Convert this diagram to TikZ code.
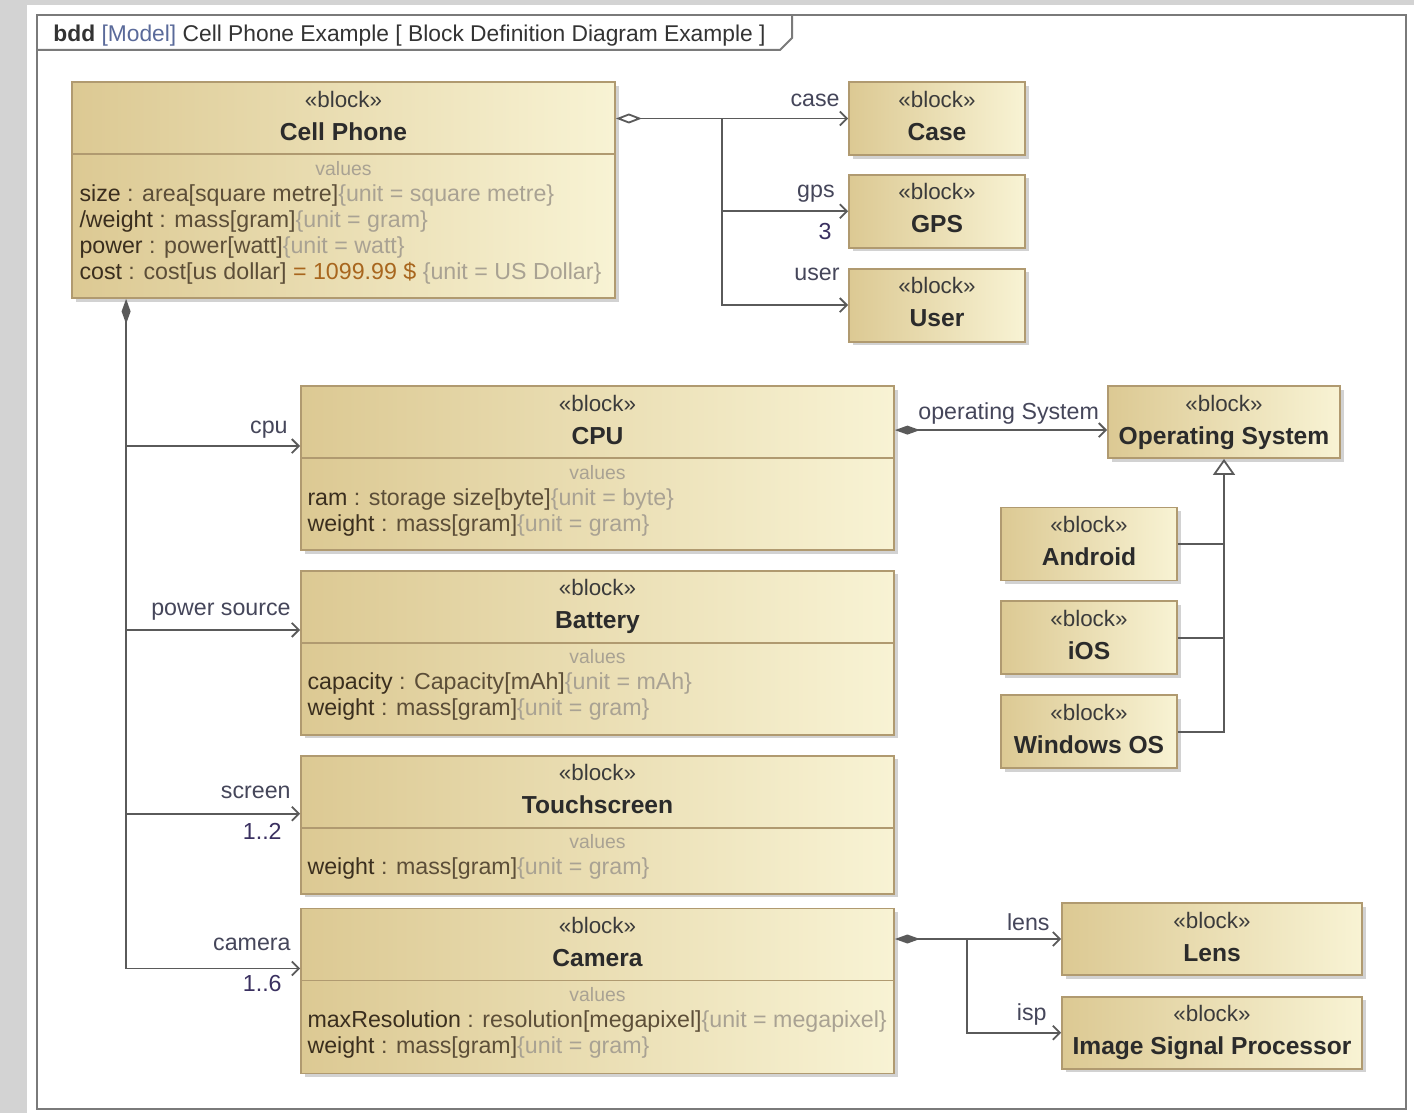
\documentclass[tikz,border=0pt]{standalone}
\usepackage{fontspec}
\setmainfont{Liberation Sans}
\usetikzlibrary{positioning, arrows.meta, shadows, calc}

\definecolor{bggray}{HTML}{D3D3D3}
\definecolor{framecol}{HTML}{7A7A7A}
\definecolor{blockline}{HTML}{B09A70}
\definecolor{blocktan}{HTML}{DCC993}
\definecolor{blockpale}{HTML}{F8F3D4}
\definecolor{nametext}{HTML}{2B2B2B}
\definecolor{stereotext}{HTML}{3B3B3B}
\definecolor{attrname}{HTML}{3A2E1E}
\definecolor{attrtype}{HTML}{5C4E38}
\definecolor{attrunit}{HTML}{A9A293}
\definecolor{valcol}{HTML}{A8661E}
\definecolor{lbltext}{HTML}{45465A}
\definecolor{multtext}{HTML}{3A3060}
\definecolor{connline}{HTML}{5A5A5A}
\definecolor{modelblue}{HTML}{5A6A9A}

\newcommand{\attrline}[3]{\textcolor{attrname}{#1} \textcolor{attrtype}{: #2}\textcolor{attrunit}{\{unit = #3\}}}

\tikzset{
  block/.style={draw=blockline, line width=0.9pt, left color=blocktan, right color=blockpale,
    inner sep=0pt, drop shadow={shadow xshift=1.8pt, shadow yshift=-1.8pt, opacity=0.35}},
  smallblock/.style={minimum width=88pt, minimum height=36.5pt},
  partblock/.style={minimum width=296.5pt},
  stereo/.style={anchor=base, inner sep=0pt, text=stereotext, font=\fontsize{11.2}{13}\selectfont},
  bname/.style={anchor=base, inner sep=0pt, text=nametext, font=\fontsize{12.3}{14}\selectfont\bfseries},
  valhead/.style={anchor=base, inner sep=0pt, text=attrunit, font=\fontsize{9.7}{11}\selectfont},
  attr/.style={anchor=base west, inner sep=0pt, font=\fontsize{11.6}{13}\selectfont},
  lbl/.style={anchor=base east, inner sep=0pt, text=lbltext, font=\fontsize{11.6}{13}\selectfont},
  mult/.style={lbl, text=multtext},
  rule/.style={draw=blockline, line width=0.9pt},
  conn/.style={draw=connline, line width=0.9pt},
  assoc/.style={conn, -{Straight Barb[length=3.5pt,width=7pt]}},
  shared/.style={conn, {Diamond[fill=white,length=13pt,width=5pt]}-{Straight Barb[length=3.5pt,width=7pt]}},
  owned/.style={conn, {Diamond[length=12.5pt,width=4.5pt]}-{Straight Barb[length=3.5pt,width=7pt]}},
  general/.style={conn, -{Triangle[fill=white,length=8pt,width=11pt]}}
}

\begin{document}
\begin{tikzpicture}[x=0.5pt, y=-0.5pt]
  \useasboundingbox (0,0) rectangle (1414,1113);
  \fill[bggray] (0,0) rectangle (1414,1113);
  \fill[white] (27,5) rectangle (1414,1113);
  \draw[framecol, line width=1.2pt] (37,15) rectangle (1406,1109);
  \draw[framecol, line width=1pt] (37,50) -- (780,50) -- (792,38) -- (792,15);
  \node[anchor=base west, inner sep=0pt, text=black!80, font=\fontsize{11.4}{13}\selectfont] (frametitle) at (53,42)
    {\textbf{bdd} \textcolor{modelblue}{[Model]} Cell Phone Example [ Block Definition Diagram Example ]};

  % blocks
  \node[block, minimum width=271.5pt, minimum height=108pt] (phone) at (343.5,190) {};
  \node[block, smallblock] (case) at (937,118.5) {};
  \node[block, smallblock, below=9pt of case] (gps) {};
  \node[block, smallblock, below=9.5pt of gps] (user) {};
  \node[block, partblock, minimum height=82pt] (cpu) at (597.5,468) {};
  \node[block, partblock, minimum height=82pt, below=9.5pt of cpu] (battery) {};
  \node[block, partblock, minimum height=69pt, below=9.5pt of battery] (touch) {};
  \node[block, partblock, minimum height=82.5pt, below=6.5pt of touch] (camera) {};
  \node[block, minimum width=116pt, minimum height=36pt] (os) at (1224,422) {};
  \node[block, smallblock] (android) at (1089,544) {};
  \node[block, smallblock, below=9.5pt of android] (ios) {};
  \node[block, smallblock, below=9.5pt of ios] (windows) {};
  \node[block, minimum width=150pt, minimum height=36pt] (lens) at (1212,939) {};
  \node[block, minimum width=150pt, minimum height=36pt, below=10pt of lens] (isp) {};

  \foreach \blk/\nm in {phone/Cell Phone, case/Case, gps/GPS, user/User, cpu/CPU, battery/Battery,
      touch/Touchscreen, camera/Camera, os/Operating System, android/Android, ios/iOS,
      windows/Windows OS, lens/Lens, isp/Image Signal Processor} {
    \node[stereo] (\blk-st) at ([yshift=-13pt]\blk.north) {«block»};
    \node[bname] (\blk-nm) at ([yshift=-29.5pt]\blk.north) {\nm};
  }
  \foreach \blk in {phone, cpu, battery, touch, camera} {
    \draw[rule] ([yshift=-36.5pt]\blk.north west) -- ([yshift=-36.5pt]\blk.north east);
    \node[valhead] (\blk-val) at ([yshift=-47pt]\blk.north) {values};
  }

  % value properties
  \node[attr] (phone-a1) at ([xshift=4pt,yshift=-60pt]phone.north west) {\attrline{size}{area[square metre]}{square metre}};
  \node[attr] (phone-a2) at ([yshift=-13pt]phone-a1.base west) {\attrline{/weight}{mass[gram]}{gram}};
  \node[attr] (phone-a3) at ([yshift=-13pt]phone-a2.base west) {\attrline{power}{power[watt]}{watt}};
  \node[attr] (phone-a4) at ([yshift=-13pt]phone-a3.base west) {\textcolor{attrname}{cost} \textcolor{attrtype}{: cost[us dollar]} \textcolor{valcol}{= 1099.99 \$} \textcolor{attrunit}{\{unit = US Dollar\}}};
  \node[attr] (cpu-a1) at ([xshift=3.5pt,yshift=-60pt]cpu.north west) {\attrline{ram}{storage size[byte]}{byte}};
  \node[attr] (cpu-a2) at ([yshift=-13pt]cpu-a1.base west) {\attrline{weight}{mass[gram]}{gram}};
  \node[attr] (battery-a1) at ([xshift=3.5pt,yshift=-60pt]battery.north west) {\attrline{capacity}{Capacity[mAh]}{mAh}};
  \node[attr] (battery-a2) at ([yshift=-13pt]battery-a1.base west) {\attrline{weight}{mass[gram]}{gram}};
  \node[attr] (touch-a1) at ([xshift=3.5pt,yshift=-60pt]touch.north west) {\attrline{weight}{mass[gram]}{gram}};
  \node[attr] (camera-a1) at ([xshift=3.5pt,yshift=-60pt]camera.north west) {\attrline{maxResolution}{resolution[megapixel]}{megapixel}};
  \node[attr] (camera-a2) at ([yshift=-13pt]camera-a1.base west) {\attrline{weight}{mass[gram]}{gram}};

  % shared parts of the phone
  \coordinate (aggsplit) at ($(phone.east |- case.west)+(106,0)$);
  \draw[shared] (phone.east |- case.west) -- (case.west);
  \draw[assoc] (aggsplit) |- (gps.west);
  \draw[assoc] (aggsplit) |- (user.west);

  % owned parts of the phone
  \coordinate (trunk) at ([xshift=27.5pt]phone.south west);
  \coordinate (cpuin) at ([yshift=-30.5pt]cpu.north west);
  \coordinate (batin) at ([yshift=-30pt]battery.north west);
  \coordinate (touchin) at ([yshift=-29.5pt]touch.north west);
  \coordinate (camin) at ([yshift=-30.5pt]camera.north west);
  \draw[owned] (trunk) |- (camin);
  \draw[assoc] (trunk |- cpuin) -- (cpuin);
  \draw[assoc] (trunk |- batin) -- (batin);
  \draw[assoc] (trunk |- touchin) -- (touchin);

  \coordinate (osin) at ([yshift=-22.5pt]os.north west);
  \draw[owned] (cpu.east |- osin) -- (osin);

  \coordinate (camsplit) at ($(camera.east |- lens.west)+(72,0)$);
  \draw[owned] (camera.east |- lens.west) -- (lens.west);
  \draw[assoc] (camsplit) |- (isp.west);

  % generalization
  \draw[general] (windows.east) -| (os.south);
  \draw[conn] (android.east) -- (android.east -| os.south);
  \draw[conn] (ios.east) -- (ios.east -| os.south);

  % role names and multiplicities
  \node[lbl] (case-role) at (840,107) {case};
  \node[lbl] (gps-role) at (835,198) {gps};
  \node[mult] (gps-mult) at (832,239) {3};
  \node[lbl] (user-role) at (840,280) {user};
  \node[lbl] (cpu-role) at (288,433) {cpu};
  \node[lbl] (battery-role) at (291,615) {power source};
  \node[lbl] (touch-role) at (291,798) {screen};
  \node[mult] (touch-mult) at (282,839) {1..2};
  \node[lbl] (camera-role) at (291,950) {camera};
  \node[mult] (camera-mult) at (282,991) {1..6};
  \node[lbl, anchor=base west] (os-role) at (918,419) {operating System};
  \node[lbl] (lens-role) at (1050,930) {lens};
  \node[lbl] (isp-role) at (1047,1020) {isp};
\end{tikzpicture}
\end{document}
